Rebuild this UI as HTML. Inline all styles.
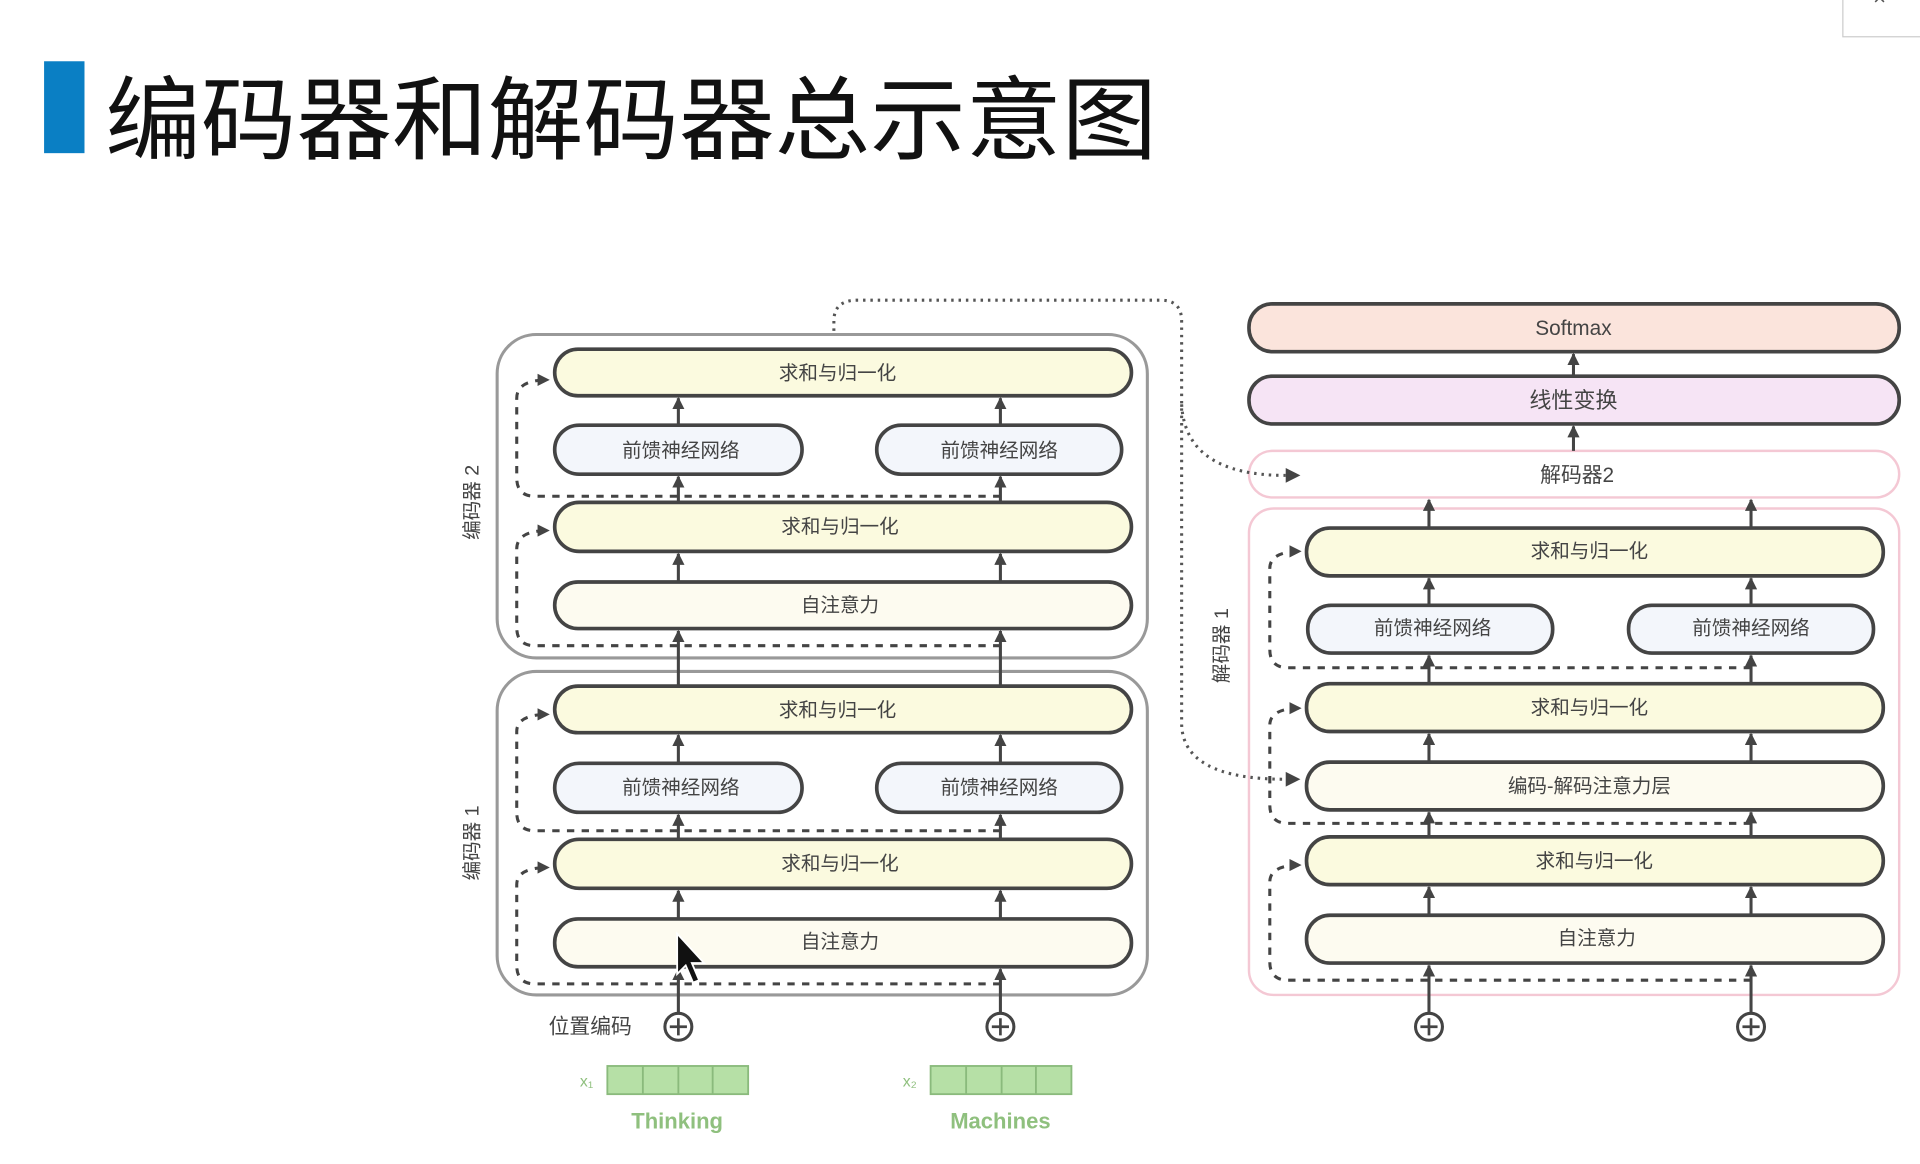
<!DOCTYPE html>
<html><head><meta charset="utf-8"><style>
html,body{margin:0;padding:0;background:#fff;width:1920px;height:1164px;overflow:hidden}
svg{display:block}
text{font-family:"Liberation Sans","Noto Sans CJK SC",sans-serif}
.p{stroke:#444;stroke-width:3}
.ln{stroke:#444;stroke-width:2.5;fill:none}
.dl{stroke:#444;stroke-width:2.5;fill:none;stroke-dasharray:6 6}
.dt{stroke:#555;stroke-width:2.5;fill:none;stroke-dasharray:2 4}
.t{font-size:16px;fill:#444;text-anchor:middle;dominant-baseline:central}
</style></head><body>
<svg width="1920" height="1164" viewBox="0 0 1568 950" preserveAspectRatio="none">
<defs>
<marker id="a" viewBox="0 0 10 10" refX="9" refY="5" markerWidth="4" markerHeight="4" orient="auto"><path d="M0,0 L10,5 L0,10 z" fill="#444"/></marker>
</defs>
<rect x="36" y="50" width="33" height="75" fill="#0a7fc4"/>
<text x="86" y="124" textLength="859" lengthAdjust="spacingAndGlyphs" style="font-size:74px;fill:#111;font-family:'Noto Sans CJK SC',sans-serif">编码器和解码器总示意图</text>
<rect x="1505" y="-2" width="66" height="32" fill="#fff" stroke="#ccc"/>
<text x="1535" y="4" style="font-size:18px;fill:#555;text-anchor:middle">×</text>

<!-- encoder containers -->
<rect x="406" y="273" width="531" height="264" rx="32" fill="#fff" stroke="#999" stroke-width="2.5"/>
<rect x="406" y="548" width="531" height="264" rx="32" fill="#fff" stroke="#999" stroke-width="2.5"/>
<text transform="translate(386,410) rotate(-90)" class="t">编码器 2</text>
<text transform="translate(386,688) rotate(-90)" class="t">编码器 1</text>

<!-- encoder pills -->
<g class="p">
<rect x="453" y="285" width="471" height="38" rx="19" fill="#fbfadf"/>
<rect x="453" y="347" width="202" height="40" rx="20" fill="#f3f6fb"/>
<rect x="716" y="347" width="200" height="40" rx="20" fill="#f3f6fb"/>
<rect x="453" y="410" width="471" height="40" rx="20" fill="#fbfadf"/>
<rect x="453" y="475" width="471" height="38" rx="19" fill="#fdfbf0"/>
<rect x="453" y="560" width="471" height="38" rx="19" fill="#fbfadf"/>
<rect x="453" y="623" width="202" height="40" rx="20" fill="#f3f6fb"/>
<rect x="716" y="623" width="200" height="40" rx="20" fill="#f3f6fb"/>
<rect x="453" y="685" width="471" height="40" rx="20" fill="#fbfadf"/>
<rect x="453" y="750" width="471" height="39" rx="19" fill="#fdfbf0"/>
</g>
<text x="684" y="305" class="t">求和与归一化</text>
<text x="556" y="368" class="t">前馈神经网络</text>
<text x="816" y="368" class="t">前馈神经网络</text>
<text x="686" y="430" class="t">求和与归一化</text>
<text x="686" y="494" class="t">自注意力</text>
<text x="684" y="580" class="t">求和与归一化</text>
<text x="556" y="643" class="t">前馈神经网络</text>
<text x="816" y="643" class="t">前馈神经网络</text>
<text x="686" y="705" class="t">求和与归一化</text>
<text x="686" y="769" class="t">自注意力</text>

<!-- encoder arrows -->
<g class="ln" marker-end="url(#a)">
<path d="M554,827 V791"/><path d="M817,827 V791"/>
<path d="M554,750 V727"/><path d="M817,750 V727"/>
<path d="M554,685 V665"/><path d="M817,685 V665"/>
<path d="M554,623 V600"/><path d="M817,623 V600"/>
<path d="M554,560 V515"/><path d="M817,560 V515"/>
<path d="M554,475 V452"/><path d="M817,475 V452"/>
<path d="M554,410 V389"/><path d="M817,410 V389"/>
<path d="M554,347 V325"/><path d="M817,347 V325"/>
</g>
<g class="dl" marker-end="url(#a)">
<path d="M817,803 H437 Q422,803 422,788 V722 Q422,708 448,708"/>
<path d="M817,678 H437 Q422,678 422,663 V597 Q422,583 448,583"/>
<path d="M817,527 H437 Q422,527 422,512 V448 Q422,433 448,433"/>
<path d="M817,405 H437 Q422,405 422,390 V325 Q422,310 448,310"/>
</g>

<!-- plus, embeddings -->
<g stroke="#444" stroke-width="2.5" fill="#fff">
<circle cx="554" cy="838" r="11"/><circle cx="817" cy="838" r="11"/>
<circle cx="1167" cy="838" r="11"/><circle cx="1430" cy="838" r="11"/>
</g>
<g stroke="#444" stroke-width="2.2">
<path d="M547,838h14M554,831v14M810,838h14M817,831v14M1160,838h14M1167,831v14M1423,838h14M1430,831v14"/>
</g>
<text x="482" y="838" class="t" style="font-size:17px">位置编码</text>
<g fill="#b6e0a6" stroke="#8aba7c" stroke-width="1.5">
<rect x="496" y="870" width="115" height="23"/><rect x="760" y="870" width="115" height="23"/>
</g>
<path d="M525,870v23M554,870v23M582,870v23M789,870v23M818,870v23M846,870v23" stroke="#8aba7c" stroke-width="1.5"/>
<text x="479" y="883" class="t" style="font-size:13px;fill:#8fc07e">x₁</text>
<text x="743" y="883" class="t" style="font-size:13px;fill:#8fc07e">x₂</text>
<text x="553" y="915" class="t" style="font-size:18px;fill:#8fc07e;font-weight:bold">Thinking</text>
<text x="817" y="915" class="t" style="font-size:18px;fill:#8fc07e;font-weight:bold">Machines</text>

<!-- decoder -->
<rect x="1020" y="248" width="531" height="39" rx="19" fill="#fbe4dc" class="p"/>
<rect x="1020" y="307" width="531" height="39" rx="19" fill="#f6e4f5" class="p"/>
<rect x="1020" y="368" width="531" height="38" rx="19" fill="#fff" stroke="#f4c8d4" stroke-width="2"/>
<rect x="1020" y="415" width="531" height="397" rx="20" fill="#fff" stroke="#f4c8d4" stroke-width="2"/>
<text x="1285" y="268" class="t" style="font-size:17px">Softmax</text>
<text x="1285" y="327" class="t" style="font-size:18px">线性变换</text>
<text x="1288" y="388" class="t" style="font-size:17px">解码器2</text>
<text transform="translate(998,527) rotate(-90)" class="t">解码器 1</text>
<g class="p">
<rect x="1067" y="431" width="471" height="39" rx="19" fill="#fbfadf"/>
<rect x="1068" y="494" width="200" height="39" rx="19" fill="#f3f6fb"/>
<rect x="1330" y="494" width="200" height="39" rx="19" fill="#f3f6fb"/>
<rect x="1067" y="558" width="471" height="39" rx="19" fill="#fbfadf"/>
<rect x="1067" y="622" width="471" height="39" rx="19" fill="#fdfbf0"/>
<rect x="1067" y="683" width="471" height="39" rx="19" fill="#fbfadf"/>
<rect x="1067" y="747" width="471" height="39" rx="19" fill="#fdfbf0"/>
</g>
<text x="1298" y="450" class="t">求和与归一化</text>
<text x="1170" y="513" class="t">前馈神经网络</text>
<text x="1430" y="513" class="t">前馈神经网络</text>
<text x="1298" y="578" class="t">求和与归一化</text>
<text x="1298" y="642" class="t">编码-解码注意力层</text>
<text x="1302" y="703" class="t">求和与归一化</text>
<text x="1304" y="766" class="t">自注意力</text>
<g class="ln" marker-end="url(#a)">
<path d="M1167,827 V788"/><path d="M1430,827 V788"/>
<path d="M1167,747 V724"/><path d="M1430,747 V724"/>
<path d="M1167,683 V663"/><path d="M1430,683 V663"/>
<path d="M1167,622 V599"/><path d="M1430,622 V599"/>
<path d="M1167,558 V535"/><path d="M1430,558 V535"/>
<path d="M1167,494 V472"/><path d="M1430,494 V472"/>
<path d="M1167,431 V408"/><path d="M1430,431 V408"/>
<path d="M1285,368 V348"/><path d="M1285,307 V289"/>
</g>
<g class="dl" marker-end="url(#a)">
<path d="M1430,800 H1052 Q1037,800 1037,785 V720 Q1037,706 1062,706"/>
<path d="M1430,672 H1052 Q1037,672 1037,657 V592 Q1037,578 1062,578"/>
<path d="M1430,545 H1052 Q1037,545 1037,530 V464 Q1037,450 1062,450"/>
</g>

<!-- dotted encoder->decoder (on top) -->
<path class="dt" d="M681,270 V262 Q681,245 700,245 H948 Q965,245 965,262 V590 Q965,636 1050,636"/>
<path class="dt" d="M965,330 Q968,388 1050,388"/>
<path d="M1050,382 L1062,388 L1050,394z" fill="#444"/>
<path d="M1050,630 L1062,636 L1050,642z" fill="#444"/>

<!-- cursor -->
<path d="M553,762 L553,795 L560,788 L566,802 L571,800 L565,786 L575,786 Z" fill="#111" stroke="#fff" stroke-width="1.5"/>
</svg>
</body></html>
